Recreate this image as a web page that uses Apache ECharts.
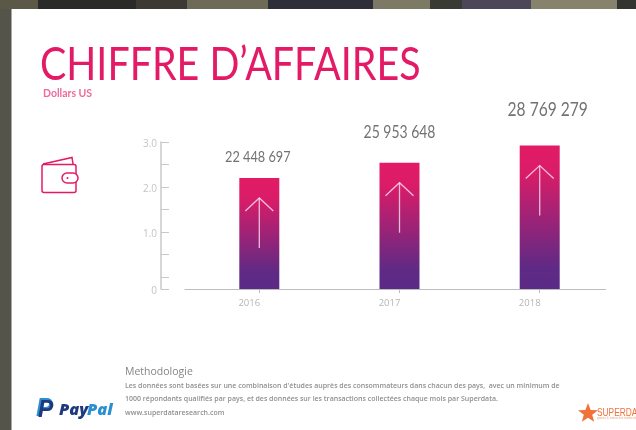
<!DOCTYPE html>
<html>
<head>
<meta charset="utf-8">
<style>
  html, body { margin: 0; padding: 0; background: #fff; }
  #main { width: 636px; height: 430px; }
</style>
<script src="https://cdn.jsdelivr.net/npm/echarts@6/dist/echarts.min.js"></script>
</head>
<body>
<div id="main"></div>
<script>
// x axis years, bar heights as read on the printed axis, and the printed totals
const years = [2016, 2017, 2018];
const barHeights = [2.2, 2.54, 2.92];
const barLabels = ['22 448 697', '25 953 648', '28 769 279'];
// the printed "0" sits below the regular tick spacing, so it gets its own axis value
const axisFloor = -0.267;
const yTicks = [axisFloor, 0, 0.5, 1, 1.5, 2, 2.5, 3];
const yTickLabels = [axisFloor, 1, 2, 3];

const labelSizes = [15.5, 17, 19];
const labelOffsets = [[-1.5, -21], [0, -30], [8, -36]];

const pink = '#e31b66';
const font = 'Lato, "Open Sans", sans-serif';
const noteFont = '"Open Sans", sans-serif';
const methodLines = [
  "Les données sont basées sur une combinaison d'études auprès des consommateurs dans chacun des pays,  avec un minimum de",
  '1000 répondants qualifiés par pays, et des données sur les transactions collectées chaque mois par Superdata.',
  'www.superdataresearch.com'
];
// photo showing behind the sheet: [x, width, colour]
const stripBlocks = [
  [0, 38, '#5c5848'], [38, 98, '#2a2a28'], [136, 51, '#3c3a32'], [187, 81, '#6e6a58'],
  [268, 105, '#2e2e38'], [373, 57, '#7c7a64'], [430, 32, '#3a3a34'], [462, 69, '#4b4658'],
  [531, 86, '#86826c'], [617, 19, '#333330']
];

const chart = echarts.init(document.getElementById('main'), null, { renderer: 'canvas' });

const arrowStyle = { fill: 'none', stroke: 'rgba(255,215,235,0.85)', lineWidth: 1.3 };
const barFill = new echarts.graphic.LinearGradient(0, 0, 0, 1, [
  { offset: 0, color: '#e31b66' },
  { offset: 0.18, color: '#da1c68' },
  { offset: 0.85, color: '#5f2a85' },
  { offset: 1, color: '#5a2a86' }
]);

// bars run down to the printed 0, which a plain bar series won't do, so they're custom
function renderBar(params, api) {
  const i = params.dataIndex;
  const p = api.coord([api.value(0), api.value(1)]);
  const base = api.coord([api.value(0), axisFloor]);
  const x = p[0], barTop = p[1], top = barTop + 20;
  return {
    type: 'group',
    children: [
      { type: 'rect', shape: { x: x - 20, y: barTop, width: 40, height: base[1] - barTop }, style: { fill: barFill } },
      { type: 'polyline', shape: { points: [[x - 14, top + 13], [x, top], [x + 14, top + 13]] }, style: arrowStyle },
      { type: 'line', shape: { x1: x, y1: top, x2: x, y2: top + 50 }, style: arrowStyle },
      {
        type: 'text',
        x: x + labelOffsets[i][0],
        y: barTop + labelOffsets[i][1],
        scaleX: 0.82,
        style: {
          text: barLabels[i],
          fill: '#727272',
          font: labelSizes[i] + 'px ' + font,
          textAlign: 'center',
          textVerticalAlign: 'middle'
        }
      }
    ]
  };
}

const option = {
  animation: false,
  backgroundColor: '#fff',
  grid: { left: 185, right: 30.4, top: 142, bottom: 141 },
  xAxis: {
    type: 'value',
    min: 2015.47,
    max: 2018.47,
    splitLine: { show: false },
    axisLine: { show: true, onZero: false, lineStyle: { color: '#bdbdbd', width: 1 } },
    axisTick: { show: true, customValues: years, length: 4, lineStyle: { color: '#bdbdbd' } },
    axisLabel: {
      customValues: years,
      formatter: (v) => String(v),
      color: '#b5b5b5',
      fontFamily: noteFont,
      fontSize: 9.5,
      margin: 9,
      padding: [0, 20, 0, 0]
    }
  },
  yAxis: {
    type: 'value',
    min: axisFloor,
    max: 3,
    offset: 24,
    splitLine: { show: false },
    axisLine: { show: true, lineStyle: { color: '#c8c8c8', width: 1.5 } },
    axisTick: { show: true, inside: true, customValues: yTicks, length: 8, lineStyle: { color: '#c8c8c8' } },
    axisLabel: {
      customValues: yTickLabels,
      formatter: (v) => (v < 0 ? '0' : v.toFixed(1)),
      color: '#c4c4c4',
      fontFamily: noteFont,
      fontSize: 10,
      margin: 4,
      verticalAlign: 'top',
      lineHeight: 4
    }
  },
  series: [
    {
      type: 'custom',
      silent: true,
      clip: false,
      data: years.map((y, i) => [y, barHeights[i]]),
      renderItem: renderBar
    }
  ],
  graphic: [
    // photo backdrop around the white sheet
    ...stripBlocks.map((b) => ({ type: 'rect', shape: { x: b[0], y: 0, width: b[1], height: 9 }, style: { fill: b[2] }, silent: true })),
    { type: 'rect', shape: { x: 0, y: 9, width: 11.5, height: 421 }, style: { fill: '#55544a' }, silent: true },

    // title block
    { type: 'text', x: 40, y: 42.5, scaleX: 0.856, style: { text: 'CHIFFRE D\u2019AFFAIRES', fill: pink, font: '400 46px ' + font } },
    { type: 'text', x: 43, y: 88, style: { text: 'Dollars US', fill: '#f06a9b', font: '700 10.5px ' + font } },

    // wallet icon
    { type: 'rect', shape: { x: 42, y: 164.5, width: 34, height: 28, r: 2 }, style: { fill: 'none', stroke: pink, lineWidth: 1.5 } },
    { type: 'polyline', shape: { points: [[43, 164], [72, 157.5], [73, 164]] }, style: { fill: 'none', stroke: pink, lineWidth: 1.5 } },
    { type: 'rect', shape: { x: 62, y: 173, width: 16, height: 10, r: 5 }, style: { fill: '#fff', stroke: pink, lineWidth: 1.5 } },
    { type: 'circle', shape: { cx: 67.5, cy: 178, r: 1 }, style: { fill: pink } },

    // methodology note
    { type: 'text', x: 125, y: 367, style: { text: 'Methodologie', fill: '#858585', font: '10.5px ' + noteFont } },
    { type: 'text', x: 125, y: 382, style: { text: methodLines[0], fill: '#8f8f8f', font: '600 7px ' + noteFont } },
    { type: 'text', x: 125, y: 395, style: { text: methodLines[1], fill: '#8f8f8f', font: '600 7px ' + noteFont } },
    { type: 'text', x: 125, y: 409, style: { text: methodLines[2], fill: '#8f8f8f', font: '600 7px ' + noteFont } },

    // logos
    { type: 'text', x: 59, y: 402, style: { text: 'Pay', fill: '#1f3a7c', font: 'italic 800 16.5px ' + noteFont } },
    { type: 'text', x: 87, y: 402, style: { text: 'Pal', fill: '#2a8fd0', font: 'italic 800 16.5px ' + noteFont } },
    { type: 'text', x: 36, y: 397, style: { text: 'P', fill: '#2a8fd0', font: 'italic 700 25px "Liberation Sans", sans-serif' } },
    { type: 'text', x: 38, y: 399, style: { text: 'P', fill: '#1f3a7c', font: 'italic 700 23px "Liberation Sans", sans-serif' } },
    { type: 'polygon', shape: { points: [[588, 403], [590.6, 410], [598, 410.3], [592.2, 414.7], [594.2, 421.8], [588, 417.7], [581.8, 421.8], [583.8, 414.7], [578, 410.3], [585.4, 410]] }, style: { fill: '#f0713a' } },
    { type: 'text', x: 597, y: 407, scaleX: 0.76, style: { text: 'SUPERDATA', fill: '#f0713a', font: '11px "Liberation Sans", sans-serif' } },
    { type: 'text', x: 597, y: 417, style: { text: 'games & interactive media intelligence', fill: '#f6a582', font: '3px "Liberation Sans", sans-serif' } }
  ]
};

chart.setOption(option);
</script>
</body>
</html>
